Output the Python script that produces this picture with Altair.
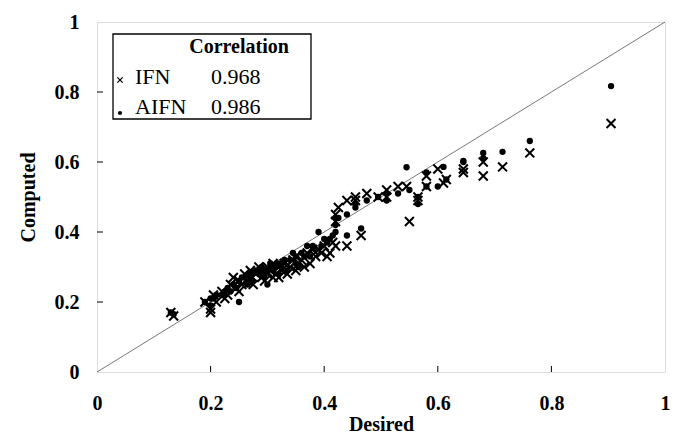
import altair as alt
import pandas as pd

desired = [0.13, 0.135, 0.19, 0.20, 0.20, 0.205, 0.21, 0.22, 0.225, 0.23, 0.235, 0.24, 0.245, 0.25, 0.25,
           0.255, 0.26, 0.265, 0.27, 0.27, 0.275, 0.28, 0.285, 0.29, 0.29, 0.295, 0.30, 0.30, 0.305, 0.31,
           0.31, 0.315, 0.32, 0.32, 0.325, 0.33, 0.335, 0.34, 0.345, 0.35, 0.35, 0.355, 0.36, 0.365, 0.37,
           0.375, 0.38, 0.385, 0.39, 0.395, 0.40, 0.405, 0.41, 0.415, 0.42, 0.42, 0.42, 0.425, 0.44, 0.44,
           0.455, 0.455, 0.465, 0.475, 0.495, 0.51, 0.51, 0.53, 0.545, 0.55, 0.565, 0.565, 0.58, 0.58, 0.60,
           0.61, 0.615, 0.645, 0.645, 0.68, 0.68, 0.714, 0.762, 0.905]
ifn = [0.17, 0.16, 0.20, 0.17, 0.18, 0.22, 0.20, 0.23, 0.21, 0.22, 0.25, 0.27, 0.24, 0.23, 0.26,
       0.25, 0.28, 0.26, 0.29, 0.27, 0.25, 0.28, 0.30, 0.27, 0.29, 0.26, 0.28, 0.30, 0.29, 0.27,
       0.31, 0.28, 0.30, 0.27, 0.29, 0.31, 0.28, 0.30, 0.32, 0.29, 0.33, 0.31, 0.32, 0.30, 0.34,
       0.31, 0.35, 0.33, 0.35, 0.34, 0.36, 0.33, 0.34, 0.37, 0.43, 0.45, 0.36, 0.47, 0.36, 0.49,
       0.49, 0.50, 0.39, 0.51, 0.50, 0.52, 0.50, 0.53, 0.53, 0.43, 0.50, 0.49, 0.53, 0.56, 0.58,
       0.54, 0.55, 0.57, 0.58, 0.56, 0.60, 0.586, 0.626, 0.71]
aifn = [0.17, 0.165, 0.20, 0.19, 0.21, 0.21, 0.22, 0.22, 0.23, 0.24, 0.23, 0.25, 0.24, 0.20, 0.26,
        0.27, 0.27, 0.25, 0.28, 0.26, 0.26, 0.29, 0.28, 0.28, 0.30, 0.27, 0.25, 0.29, 0.31, 0.30,
        0.29, 0.30, 0.31, 0.28, 0.30, 0.32, 0.29, 0.32, 0.34, 0.31, 0.33, 0.30, 0.34, 0.33, 0.36,
        0.33, 0.36, 0.35, 0.40, 0.36, 0.38, 0.37, 0.38, 0.39, 0.42, 0.44, 0.40, 0.44, 0.39, 0.45,
        0.47, 0.48, 0.41, 0.49, 0.50, 0.49, 0.51, 0.51, 0.585, 0.52, 0.48, 0.50, 0.57, 0.53, 0.53,
        0.586, 0.55, 0.603, 0.60, 0.626, 0.611, 0.629, 0.66, 0.817]

tick_values = [0, 0.2, 0.4, 0.6, 0.8, 1]
inner_ticks = [0.2, 0.4, 0.6, 0.8]
diag = [0, 1]

FONT = "Liberation Serif"

df = pd.DataFrame({"Desired": desired, "IFN": ifn, "AIFN": aifn})
ticks_df = pd.DataFrame({"t": inner_ticks})
diag_df = pd.DataFrame({"d": diag})

xs = alt.Scale(domain=[0, 1], nice=False)
ys = alt.Scale(domain=[0, 1], nice=False)

xaxis = alt.Axis(values=tick_values, format="~g", tickSize=0, grid=False, domain=False,
                 labelFont=FONT, labelFontSize=20, labelFontWeight="bold", labelPadding=21,
                 titleFont=FONT, titleFontSize=20, titleFontWeight="bold", titlePadding=1,
                 labelColor="black", titleColor="black", labelFlush=False)
yaxis = alt.Axis(values=tick_values, format="~g", tickSize=0, grid=False, domain=False,
                 labelFont=FONT, labelFontSize=20, labelFontWeight="bold", labelPadding=18,
                 titleFont=FONT, titleFontSize=20, titleFontWeight="bold", titlePadding=16,
                 labelColor="black", titleColor="black", labelFlush=False)

line = alt.Chart(diag_df).mark_line(color="#555555", strokeWidth=0.8).encode(
    x=alt.X("d:Q", scale=xs, axis=xaxis, title="Desired"),
    y=alt.Y("d:Q", scale=ys, axis=yaxis, title="Computed"),
)

xpath = "M -1 -1 L 1 1 M 1 -1 L -1 1"
ifn_pts = alt.Chart(df).mark_point(shape=xpath, filled=False, color="black", opacity=1,
                                   strokeWidth=2, size=80).encode(
    x=alt.X("Desired:Q", scale=xs),
    y=alt.Y("IFN:Q", scale=ys),
)
aifn_pts = alt.Chart(df).mark_circle(color="black", opacity=1, size=40).encode(
    x=alt.X("Desired:Q", scale=xs),
    y=alt.Y("AIFN:Q", scale=ys),
)

xticks = alt.Chart(ticks_df).mark_rule(color="black", strokeWidth=1).encode(
    x=alt.X("t:Q", scale=xs), y=alt.value(350), y2=alt.value(344)
)
yticks = alt.Chart(ticks_df).mark_rule(color="black", strokeWidth=1).encode(
    y=alt.Y("t:Q", scale=ys), x=alt.value(0), x2=alt.value(6)
)

# legend box
box = alt.Chart(diag_df.head(1)).mark_rect(fill="white", stroke="black", strokeWidth=1.3).encode(
    x=alt.value(16), x2=alt.value(214), y=alt.value(12), y2=alt.value(97)
)
leg_title = alt.Chart(diag_df.head(1)).mark_text(text="Correlation", font=FONT, fontSize=20,
                                                 fontWeight="bold", align="center", baseline="middle",
                                                 color="black").encode(x=alt.value(142), y=alt.value(25))
leg_rows = pd.DataFrame({
    "name": ["IFN", "AIFN"],
    "val": ["0.968", "0.986"],
    "ypix": [55, 85],
})
leg_name = alt.Chart(leg_rows).mark_text(font=FONT, fontSize=22, align="left", baseline="middle",
                                         color="black").encode(
    x=alt.value(38), y=alt.Y("ypix:Q", scale=None), text="name:N")
leg_val = alt.Chart(leg_rows).mark_text(font=FONT, fontSize=22, align="left", baseline="middle",
                                        color="black").encode(
    x=alt.value(114), y=alt.Y("ypix:Q", scale=None), text="val:N")
leg_x = alt.Chart(diag_df.head(1)).mark_point(shape=xpath, filled=False, color="black", opacity=1,
                                              strokeWidth=1.3, size=28).encode(x=alt.value(23), y=alt.value(58))
leg_dot = alt.Chart(diag_df.head(1)).mark_circle(color="black", opacity=1, size=18).encode(
    x=alt.value(23), y=alt.value(91))

chart = alt.layer(line, xticks, yticks, ifn_pts, aifn_pts, box, leg_title, leg_name, leg_val, leg_x, leg_dot).properties(
    width=568, height=350,
    autosize=alt.AutoSizeParams(type="none"),
    padding={"left": 89, "top": 14, "right": 5, "bottom": 62},
).configure_view(stroke="black", strokeWidth=1.3).configure(background="white")

chart.save("out.html", embed_options={"renderer": "svg", "actions": False})
